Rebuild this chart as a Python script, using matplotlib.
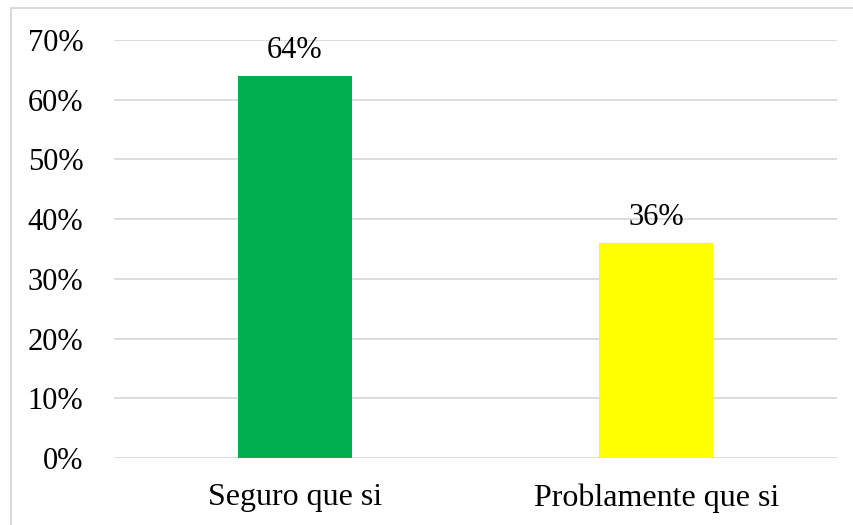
import matplotlib.pyplot as plt
from matplotlib.patches import Rectangle
from matplotlib.ticker import FuncFormatter

categories = ["Seguro que si", "Problamente que si"]
shares = [64, 36]
bar_colors = ["#00b050", "#ffff00"]
y_ticks = [0, 10, 20, 30, 40, 50, 60, 70]

plt.rcParams["font.family"] = ["Liberation Serif", "DejaVu Serif"]

fig = plt.figure(figsize=(8.54, 5.25), dpi=100)
ax = fig.add_axes([0.1335, 0.1276, 0.8465, 0.7962])

x = list(range(len(categories)))
ax.bar(x, shares, width=0.315, color=bar_colors, zorder=3)

for xi, v in zip(x, shares):
    ax.annotate(f"{v}%", (xi, v), xytext=(0, 8), textcoords="offset points",
                ha="center", va="bottom", fontsize=22, color="#000000")

ax.set_xlim(-0.5, 1.5)
ax.set_ylim(0, 70)
ax.set_yticks(y_ticks)
ax.yaxis.set_major_formatter(FuncFormatter(lambda v, _: f"{v:.0f}%"))
ax.set_xticks(x)
ax.set_xticklabels(categories)
ax.tick_params(axis="y", length=0, pad=22, labelsize=22, labelcolor="#000000")
ax.tick_params(axis="x", length=0, pad=18, labelsize=23, labelcolor="#000000")

ax.grid(axis="y", color="#d9d9d9", linewidth=1.3, zorder=0)
for spine in ax.spines.values():
    spine.set_visible(False)

# light frame round the whole chart area
fig.patches.append(Rectangle((11 / 854, -0.05), 1.0, 1 - 8 / 525 + 0.05,
                             transform=fig.transFigure, fill=False,
                             edgecolor="#d9d9d9", linewidth=1.5))

fig.savefig("out.png", dpi=100)
